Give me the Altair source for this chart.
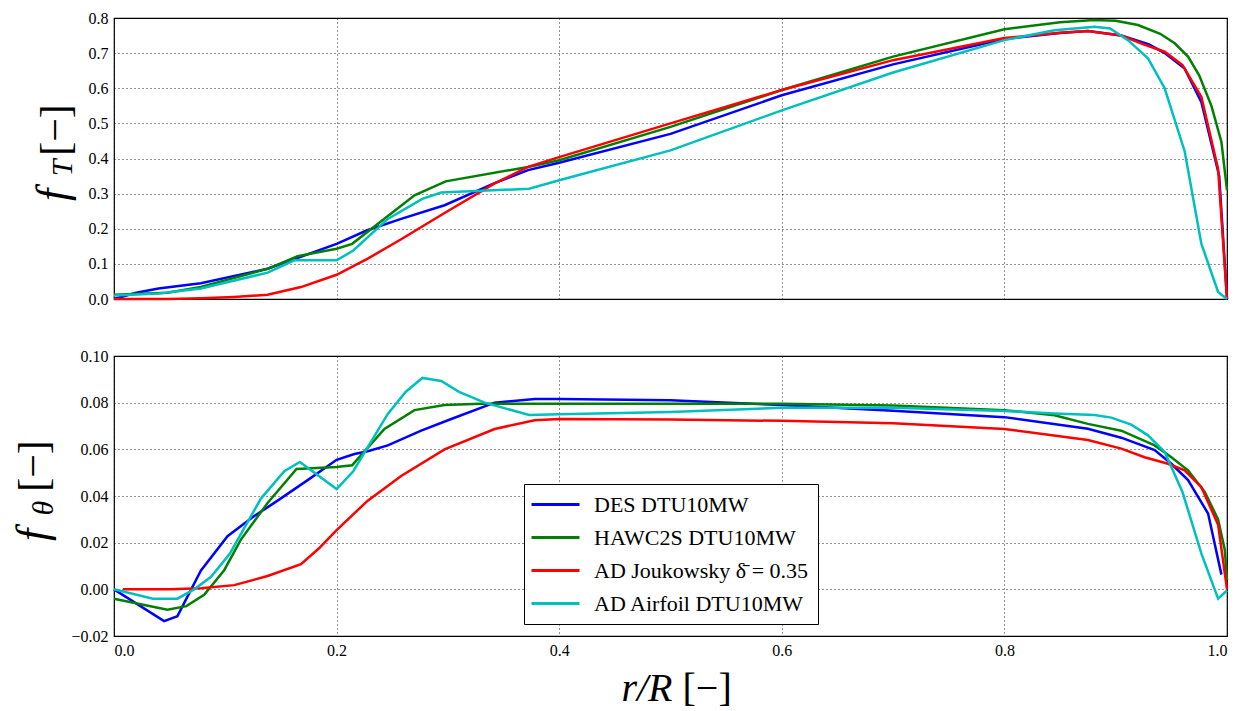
import altair as alt
import pandas as pd

series_names = ["DES DTU10MW", "HAWC2S DTU10MW", "AD Joukowsky δ\u0304 = 0.35", "AD Airfoil DTU10MW"]
series_colors = ["#0000ff", "#008000", "#ff0000", "#00bfbf"]

# ---- top panel: f_T ----
r_des_T = [0, 0.02, 0.04, 0.078, 0.138, 0.2, 0.227, 0.258, 0.297, 0.342, 0.372, 0.4, 0.5, 0.6, 0.7, 0.8, 0.85, 0.875, 0.905, 0.93, 0.944, 0.962, 0.977, 0.993, 1.0]
f_des_T = [0, 0.018, 0.03, 0.045, 0.086, 0.157, 0.195, 0.228, 0.267, 0.33, 0.367, 0.388, 0.47, 0.58, 0.668, 0.74, 0.757, 0.763, 0.75, 0.725, 0.70, 0.656, 0.56, 0.35, 0.0]

r_hawc_T = [0, 0.048, 0.078, 0.138, 0.165, 0.2, 0.214, 0.27, 0.298, 0.372, 0.4, 0.5, 0.6, 0.7, 0.8, 0.85, 0.881, 0.9, 0.92, 0.94, 0.953, 0.965, 0.975, 0.986, 0.995, 1.0]
f_hawc_T = [0.012, 0.018, 0.034, 0.086, 0.122, 0.143, 0.157, 0.295, 0.335, 0.376, 0.395, 0.49, 0.595, 0.69, 0.768, 0.788, 0.794, 0.792, 0.78, 0.755, 0.728, 0.69, 0.637, 0.55, 0.447, 0.31]

r_jouk_T = [0, 0.05, 0.078, 0.108, 0.138, 0.168, 0.2, 0.228, 0.258, 0.297, 0.342, 0.372, 0.4, 0.5, 0.6, 0.7, 0.8, 0.85, 0.875, 0.905, 0.925, 0.944, 0.96, 0.977, 0.992, 1.0]
f_jouk_T = [0, 0, 0.002, 0.006, 0.012, 0.034, 0.069, 0.115, 0.17, 0.245, 0.329, 0.376, 0.404, 0.5, 0.595, 0.68, 0.743, 0.758, 0.763, 0.75, 0.725, 0.704, 0.666, 0.575, 0.37, 0.0]

r_airf_T = [0, 0.04, 0.078, 0.138, 0.162, 0.2, 0.215, 0.246, 0.277, 0.294, 0.373, 0.4, 0.5, 0.6, 0.7, 0.8, 0.845, 0.881, 0.895, 0.911, 0.929, 0.944, 0.962, 0.977, 0.992, 1.0]
f_airf_T = [0.01, 0.016, 0.03, 0.075, 0.11, 0.11, 0.138, 0.228, 0.285, 0.303, 0.314, 0.338, 0.423, 0.537, 0.645, 0.737, 0.765, 0.775, 0.77, 0.737, 0.685, 0.6, 0.42, 0.157, 0.02, 0.0]

# ---- bottom panel: f_theta ----
r_des_Q = [0, 0.045, 0.057, 0.078, 0.102, 0.126, 0.147, 0.174, 0.2, 0.216, 0.228, 0.246, 0.276, 0.303, 0.342, 0.378, 0.4, 0.5, 0.6, 0.7, 0.8, 0.875, 0.905, 0.935, 0.95, 0.965, 0.983, 0.995]
f_des_Q = [0, -0.0136, -0.0115, 0.008, 0.0228, 0.0314, 0.038, 0.0468, 0.0555, 0.058, 0.0592, 0.0617, 0.068, 0.073, 0.080, 0.0816, 0.0816, 0.081, 0.079, 0.0765, 0.0738, 0.0688, 0.065, 0.0597, 0.0538, 0.0468, 0.0325, 0.0063]

r_hawc_Q = [0, 0.048, 0.065, 0.081, 0.099, 0.114, 0.138, 0.164, 0.2, 0.214, 0.243, 0.27, 0.297, 0.33, 0.4, 0.6, 0.7, 0.8, 0.845, 0.875, 0.905, 0.935, 0.95, 0.965, 0.98, 0.992, 0.998, 1.0]
f_hawc_Q = [-0.004, -0.0087, -0.0072, -0.0023, 0.0082, 0.0213, 0.037, 0.0516, 0.0524, 0.0532, 0.0687, 0.0768, 0.079, 0.0795, 0.0795, 0.0795, 0.0788, 0.0768, 0.0746, 0.0709, 0.068, 0.0617, 0.0566, 0.051, 0.0417, 0.030, 0.017, 0.004]

r_jouk_Q = [0.008, 0.05, 0.078, 0.108, 0.138, 0.168, 0.184, 0.2, 0.228, 0.258, 0.297, 0.342, 0.378, 0.4, 0.5, 0.6, 0.7, 0.8, 0.875, 0.905, 0.926, 0.947, 0.962, 0.977, 0.992, 1.0]
f_jouk_Q = [0, 0, 0.0005, 0.0018, 0.0057, 0.0108, 0.0175, 0.0254, 0.038, 0.0486, 0.060, 0.0687, 0.0725, 0.073, 0.0728, 0.0722, 0.0712, 0.0687, 0.064, 0.0603, 0.0566, 0.0538, 0.051, 0.0438, 0.0277, 0.0]

r_airf_Q = [0, 0.035, 0.057, 0.072, 0.087, 0.104, 0.132, 0.153, 0.167, 0.2, 0.215, 0.246, 0.262, 0.277, 0.294, 0.31, 0.333, 0.373, 0.4, 0.5, 0.6, 0.7, 0.8, 0.845, 0.881, 0.896, 0.914, 0.929, 0.944, 0.96, 0.977, 0.992, 1.0]
f_airf_Q = [0, -0.004, -0.004, 0, 0.0053, 0.0152, 0.0389, 0.0506, 0.0546, 0.043, 0.0506, 0.0752, 0.0846, 0.0906, 0.0893, 0.0846, 0.080, 0.0747, 0.075, 0.076, 0.0778, 0.0778, 0.0764, 0.0754, 0.0747, 0.0736, 0.0706, 0.066, 0.0589, 0.0417, 0.0153, -0.004, -0.0005]

x_ticks = [0.0, 0.2, 0.4, 0.6, 0.8, 1.0]
yT_ticks = [0.0, 0.1, 0.2, 0.3, 0.4, 0.5, 0.6, 0.7, 0.8]
yQ_ticks = [-0.02, 0.0, 0.02, 0.04, 0.06, 0.08, 0.10]


def frame(rs, vs, name):
    return pd.DataFrame({"r": rs, "v": vs, "series": name, "k": list(range(len(rs)))})


top_df = pd.concat([
    frame(r_des_T, f_des_T, series_names[0]),
    frame(r_hawc_T, f_hawc_T, series_names[1]),
    frame(r_jouk_T, f_jouk_T, series_names[2]),
    frame(r_airf_T, f_airf_T, series_names[3]),
])
bot_df = pd.concat([
    frame(r_des_Q, f_des_Q, series_names[0]),
    frame(r_hawc_Q, f_hawc_Q, series_names[1]),
    frame(r_jouk_Q, f_jouk_Q, series_names[2]),
    frame(r_airf_Q, f_airf_Q, series_names[3]),
])

W = 1113
HT = 281
HB = 280
SERIF = "Liberation Serif, Times New Roman, serif"

color = alt.Color(
    "series:N",
    scale=alt.Scale(domain=series_names, range=series_colors),
    sort=series_names,
    legend=alt.Legend(
        title=None, orient="none", legendX=410, legendY=466,
        direction="vertical",
        symbolType="M-2.4,0H2.4", symbolSize=400, symbolStrokeWidth=3,
        symbolOffset=11, labelOffset=27,
        labelFont=SERIF, labelFontSize=22, labelColor="black", labelLimit=400,
        rowPadding=10, padding=9,
        fillColor="white", strokeColor="black", cornerRadius=0,
    ),
)


def txt(text, x, y, size, italic=False, angle=0, align="center", baseline="middle"):
    kw = dict(font=SERIF, fontSize=size, color="black", align=align, baseline=baseline)
    if italic:
        kw["fontStyle"] = "italic"
    if angle:
        kw["angle"] = angle
    return alt.Chart(pd.DataFrame({"t": [text]})).mark_text(**kw).encode(
        x=alt.value(x), y=alt.value(y), text="t:N"
    )


top_lines = alt.Chart(top_df).mark_line(strokeWidth=2.5).encode(
    x=alt.X("r:Q", scale=alt.Scale(domain=[0, 1], nice=False),
            axis=alt.Axis(values=x_ticks, labels=False, ticks=False, title=None, domain=False)),
    y=alt.Y("v:Q", scale=alt.Scale(domain=[0, 0.8], nice=False),
            axis=alt.Axis(values=yT_ticks, format=".1f", title=None, ticks=False, domain=False)),
    color=color,
    order="k:Q",
)

top = alt.layer(
    top_lines,
    txt("f", -60, 177, 44, italic=True, angle=270),
    txt("T", -51, 150, 30, italic=True, angle=270),
    txt("[−]", -58, 112, 42, angle=270),
).properties(width=W, height=HT)

bot_lines = alt.Chart(bot_df).mark_line(strokeWidth=2.5).encode(
    x=alt.X("r:Q", scale=alt.Scale(domain=[0, 1], nice=False),
            axis=alt.Axis(values=x_ticks, format=".1f", title=None, ticks=False, domain=False)),
    y=alt.Y("v:Q", scale=alt.Scale(domain=[-0.02, 0.10], nice=False),
            axis=alt.Axis(values=yQ_ticks, format=".2f", title=None, ticks=False, domain=False)),
    color=color,
    order="k:Q",
)

bot = alt.layer(
    bot_lines,
    txt("f", -80, 179, 44, italic=True, angle=270),
    txt("θ", -70, 152, 30, italic=True, angle=270),
    txt("[−]", -80, 110, 42, angle=270),
    txt("r/R", W / 2 + 2, HB + 53, 40, italic=True, align="right"),
    txt("[−]", W / 2 + 12, HB + 53, 40, align="left"),
).properties(width=W, height=HB)

chart = alt.vconcat(top, bot, spacing=39).properties(
    padding={"left": 3, "top": 1, "right": 5, "bottom": 2},
    background="white",
).configure_view(
    stroke="black", strokeWidth=1.2
).configure_axis(
    labelFont=SERIF, labelFontSize=16, labelColor="black", labelPadding=6,
    grid=True, gridColor="black", gridDash=[1, 3], gridOpacity=0.85, gridWidth=1,
)

chart.save("out.html", embed_options={"renderer": "svg", "actions": False})
